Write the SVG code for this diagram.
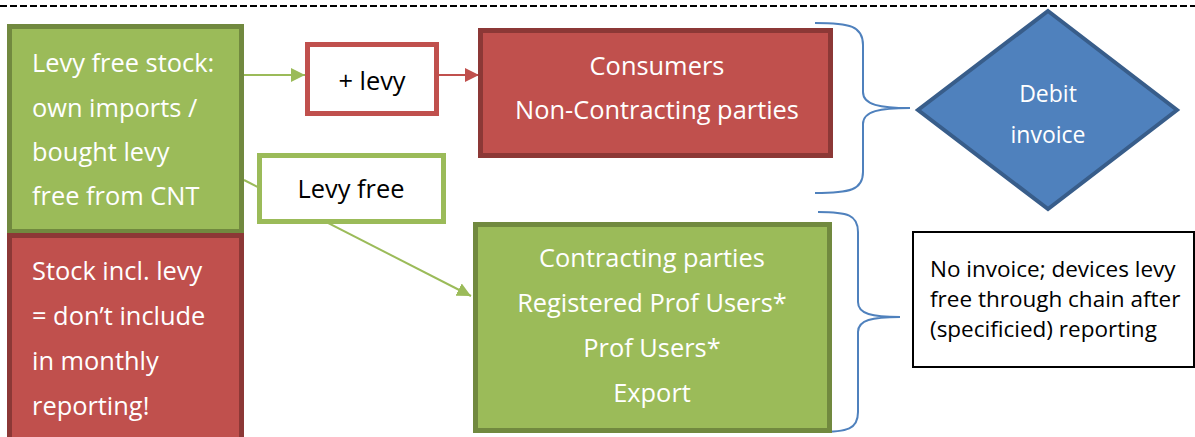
<svg xmlns="http://www.w3.org/2000/svg" width="1195" height="437" viewBox="0 0 1195 437">
<style>
.t{font-family:"Open Sans","Liberation Sans",sans-serif;}
.w{fill:#ffffff;}
.k{fill:#000000;}
.g{fill:#9bbb59;stroke:#71893f;stroke-width:5;}
.r{fill:#c0504d;stroke:#8c3836;stroke-width:5;}
.brace{fill:none;stroke:#4f81bd;stroke-width:2;}
</style>
<defs>
<marker id="ag" markerWidth="14" markerHeight="14" refX="10" refY="5" orient="auto" markerUnits="userSpaceOnUse" viewBox="0 0 10 10"><path d="M0,0 L10,5 L0,10 z" fill="#9bbb59"/></marker>
<marker id="ar" markerWidth="14" markerHeight="14" refX="10" refY="5" orient="auto" markerUnits="userSpaceOnUse" viewBox="0 0 10 10"><path d="M0,0 L10,5 L0,10 z" fill="#c0504d"/></marker>
</defs>
<rect width="1195" height="437" fill="#ffffff"/>
<line x1="0" y1="6" x2="1195" y2="6" stroke="#000" stroke-width="2" stroke-dasharray="7 3"/>
<g id="connectors">
<line x1="244" y1="75" x2="305" y2="75" stroke="#9bbb59" stroke-width="2" marker-end="url(#ag)"/>
<line x1="438" y1="75" x2="479" y2="75" stroke="#c0504d" stroke-width="2" marker-end="url(#ar)"/>
<line x1="244" y1="180" x2="471" y2="296" stroke="#9bbb59" stroke-width="2" marker-end="url(#ag)"/>
<path class="brace" d="M815,23 C850,23 863,26 863,45 L863,92 C863,105 880,108 910,108 C880,108 863,111 863,124 L863,172 C863,190 850,193 815,193"/>
<path class="brace" d="M818,212 C848,212 858,215 858,232 L858,302 C858,314 872,317 900,317 C872,317 858,320 858,332 L858,412 C858,429 848,432 818,432"/>
</g>
<g id="levy-free-stock">
<rect class="g" x="9.5" y="26.5" width="232" height="205"/>
<text class="t w" font-size="25.4"><tspan x="32" y="72">Levy free stock:</tspan><tspan x="32" y="117">own imports /</tspan><tspan x="32" y="161">bought levy</tspan><tspan x="32" y="205">free from CNT</tspan></text>
</g>
<g id="stock-incl-levy">
<rect class="r" x="9.5" y="235.5" width="232" height="210"/>
<text class="t w" font-size="25.4"><tspan x="32" y="280">Stock incl. levy</tspan><tspan x="32" y="325">= don’t include</tspan><tspan x="32" y="370">in monthly</tspan><tspan x="32" y="415">reporting!</tspan></text>
</g>
<g id="plus-levy">
<rect x="307.5" y="44.5" width="129" height="69" fill="#fff" stroke="#c0504d" stroke-width="5"/>
<text class="t k" font-size="25.4" x="372" y="90" text-anchor="middle">+ levy</text>
</g>
<g id="levy-free">
<rect x="259.5" y="155.5" width="184" height="66" fill="#fff" stroke="#9bbb59" stroke-width="5"/>
<text class="t k" font-size="25.4" x="351" y="198" text-anchor="middle">Levy free</text>
</g>
<g id="consumers">
<rect class="r" x="480.5" y="30.5" width="350" height="125"/>
<text class="t w" font-size="25.4" text-anchor="middle"><tspan x="657" y="75">Consumers</tspan><tspan x="657" y="119">Non-Contracting parties</tspan></text>
</g>
<g id="contracting">
<rect class="g" x="475.5" y="224.5" width="354" height="206"/>
<text class="t w" font-size="25.4" text-anchor="middle"><tspan x="652" y="267">Contracting parties</tspan><tspan x="652" y="312">Registered Prof Users*</tspan><tspan x="652" y="357">Prof Users*</tspan><tspan x="652" y="402">Export</tspan></text>
</g>
<g id="debit-invoice">
<polygon points="1048,11 1177,110 1048,209 918,110" fill="#4f81bd" stroke="#385d8a" stroke-width="4"/>
<text class="t w" font-size="23" text-anchor="middle"><tspan x="1048" y="102">Debit</tspan><tspan x="1048" y="143">invoice</tspan></text>
</g>
<g id="no-invoice">
<rect x="913" y="232" width="281" height="135" fill="#fff" stroke="#000" stroke-width="2"/>
<text class="t k" font-size="22.5"><tspan x="930" y="277">No invoice; devices levy</tspan><tspan x="930" y="307">free through chain after</tspan><tspan x="930" y="337">(specificied) reporting</tspan></text>
</g>
</svg>
